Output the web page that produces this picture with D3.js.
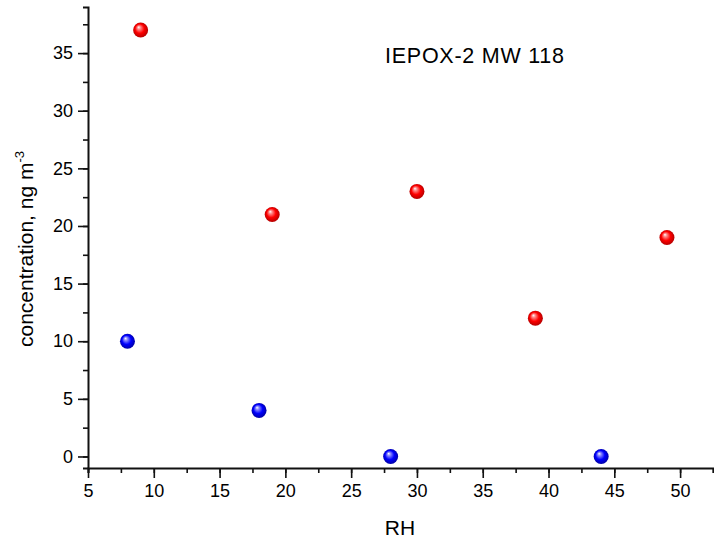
<!DOCTYPE html>
<html lang="en">
<head>
<meta charset="utf-8">
<script src="https://d3js.org/d3.v7.min.js"></script>
<style>
  body { margin: 0; background: #fff; }
  text { font-family: "Liberation Sans", Arial, sans-serif; fill: #000; }
</style>
</head>
<body>
<script>
var width = 714;
var height = 544;

// data
var redRH   = [9, 19, 30, 39, 49];
var redConc = [37, 21, 23, 12, 19];
var blueRH   = [8, 18, 28, 44];
var blueConc = [10, 4, 0, 0];
var xTicks = [5, 10, 15, 20, 25, 30, 35, 40, 45, 50];
var yTicks = [0, 5, 10, 15, 20, 25, 30, 35];

var plotLeft = 88, plotRight = 713, plotTop = 7, plotBottom = 468;

var svg = d3.select("body").append("svg")
    .attr("width", width)
    .attr("height", height);

var defs = svg.append("defs");
function ball(id, light, main, dark) {
  var g = defs.append("radialGradient")
      .attr("id", id)
      .attr("cx", "50%").attr("cy", "50%").attr("r", "55%")
      .attr("fx", "36%").attr("fy", "30%");
  g.append("stop").attr("offset", "0%").attr("stop-color", "#ffffff");
  g.append("stop").attr("offset", "20%").attr("stop-color", light);
  g.append("stop").attr("offset", "55%").attr("stop-color", main);
  g.append("stop").attr("offset", "100%").attr("stop-color", dark);
}
ball("redBall", "#ff8c8c", "#ff0000", "#a80000");
ball("blueBall", "#8c8cff", "#0000ff", "#000098");

var x = d3.scaleLinear().domain([5, 52.5]).range([plotLeft, plotRight]);
var y = d3.scaleLinear().domain([-1, 39]).range([plotBottom, plotTop]);

// x axis
var xAxis = svg.append("g").attr("transform", "translate(0," + plotBottom + ")");
xAxis.call(d3.axisBottom(x).tickValues(d3.range(5, 53, 2.5)).tickSize(5).tickFormat(""));
xAxis.append("g").call(d3.axisBottom(x).tickValues(xTicks).tickSize(10).tickPadding(6)
    .tickFormat(d3.format("d")))
  .selectAll("text").style("font-size", "18px");
xAxis.selectAll("path.domain").attr("stroke", "#111").attr("stroke-width", 2);
xAxis.selectAll(".tick line").attr("stroke", "#111").attr("stroke-width", 1.6);
xAxis.selectAll("g g path.domain").remove();

// y axis
var yAxis = svg.append("g").attr("transform", "translate(" + plotLeft + ",0)");
yAxis.call(d3.axisLeft(y).tickValues(d3.range(0, 39, 2.5)).tickSize(5).tickFormat(""));
yAxis.append("g").call(d3.axisLeft(y).tickValues(yTicks).tickSize(10).tickPadding(5)
    .tickFormat(d3.format("d")))
  .selectAll("text").style("font-size", "18px");
yAxis.selectAll("path.domain").attr("stroke", "#111").attr("stroke-width", 2);
yAxis.selectAll(".tick line").attr("stroke", "#111").attr("stroke-width", 1.6);
yAxis.selectAll("g g path.domain").remove();

// titles
svg.append("text")
  .attr("x", 400).attr("y", 535)
  .attr("text-anchor", "middle")
  .style("font-size", "21px")
  .text("RH");

var yt = svg.append("text")
  .attr("transform", "translate(33,249) rotate(-90)")
  .attr("text-anchor", "middle")
  .style("font-size", "21px");
yt.append("tspan").text("concentration, ng m");
yt.append("tspan").attr("dy", -9).style("font-size", "13px").text("-3");

svg.append("text")
  .attr("x", 385).attr("y", 63)
  .attr("textLength", 179)
  .style("font-size", "21.5px")
  .text("IEPOX-2 MW 118");

// points
svg.selectAll("circle.red")
  .data(d3.zip(redRH, redConc))
  .enter().append("circle")
  .attr("class", "red")
  .attr("cx", function(d) { return x(d[0]); })
  .attr("cy", function(d) { return y(d[1]); })
  .attr("r", 7.5)
  .attr("fill", "url(#redBall)");

svg.selectAll("circle.blue")
  .data(d3.zip(blueRH, blueConc))
  .enter().append("circle")
  .attr("class", "blue")
  .attr("cx", function(d) { return x(d[0]); })
  .attr("cy", function(d) { return y(d[1]); })
  .attr("r", 7.5)
  .attr("fill", "url(#blueBall)");
</script>
</body>
</html>
